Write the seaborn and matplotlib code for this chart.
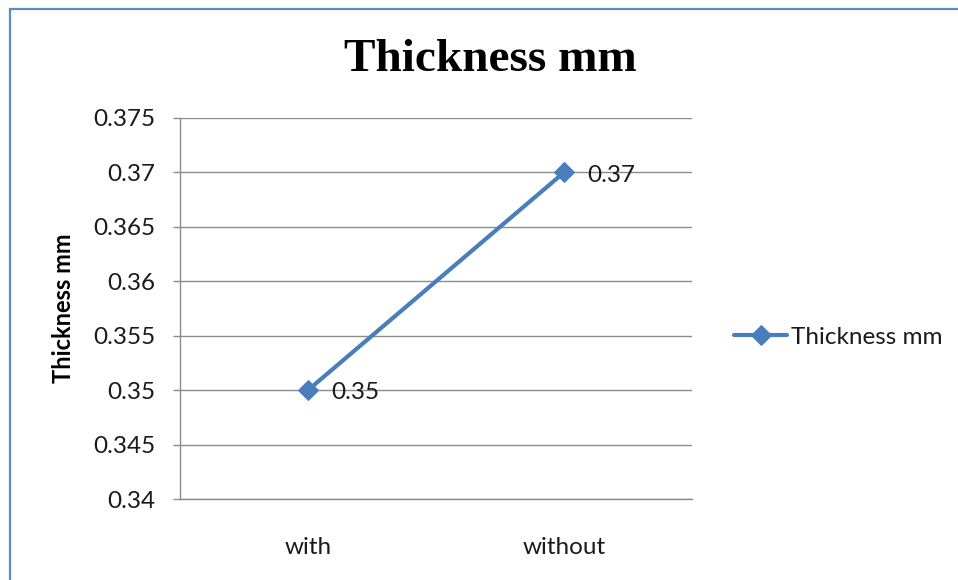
import matplotlib
matplotlib.use("Agg")
import matplotlib.pyplot as plt
import seaborn as sns
import pandas as pd
from matplotlib.patches import Rectangle

# data
categories = ["with", "without"]
thickness = [0.35, 0.37]
series_name = "Thickness mm"
y_ticks = [0.34, 0.345, 0.35, 0.355, 0.36, 0.365, 0.37, 0.375]
y_tick_labels = ["0.34", "0.345", "0.35", "0.355", "0.36", "0.365", "0.37", "0.375"]

df = pd.DataFrame({"group": categories, "value": thickness})

sns.set_theme(style="white")
plt.rcParams["font.family"] = ["Lato", "DejaVu Sans"]

blue = "#4A7EBB"
grid_c = "#8C8C8C"
text_c = "#1A1A1A"
fs = 17.5

fig = plt.figure(figsize=(9.58, 5.8), dpi=100)
ax = fig.add_axes([180 / 958, 1 - 499 / 580, 512 / 958, 381 / 580])

sns.lineplot(data=df, x="group", y="value", ax=ax, color=blue, linewidth=3,
             marker="D", markersize=10, markeredgecolor=blue, label=series_name,
             legend=False)

ax.set_xlim(-0.5, 1.5)
ax.set_ylim(0.34, 0.375)
ax.set_yticks(y_ticks)
ax.set_yticklabels(y_tick_labels, fontsize=fs, color=text_c)
ax.set_xticks(range(len(categories)))
ax.set_xticklabels(categories, fontsize=fs, color=text_c)
ax.tick_params(axis="y", length=5, width=1, color=grid_c, pad=13, left=True)
ax.tick_params(axis="x", length=0, pad=27)

ax.grid(axis="y", color=grid_c, linewidth=1)
ax.grid(axis="x", visible=False)
ax.set_axisbelow(True)
for side in ["top", "right"]:
    ax.spines[side].set_visible(False)
for side in ["left", "bottom"]:
    ax.spines[side].set_color(grid_c)
    ax.spines[side].set_linewidth(1)

ax.set_xlabel("")
ax.set_ylabel(series_name, fontsize=17, fontweight="bold", color="black", labelpad=13)

# value labels beside each point
for i, v in enumerate(thickness):
    ax.annotate(f"{v:g}", (i, v), xytext=(17, -2), textcoords="offset points",
                ha="left", va="center", fontsize=fs, color=text_c)

fig.text(490 / 958, 1 - 60 / 580, series_name, ha="center", va="center",
         fontsize=34, fontweight="bold", family="Liberation Serif", color="black")

handles, labels = ax.get_legend_handles_labels()
fig.legend(handles, labels, loc="center left", bbox_to_anchor=(712 / 958, 1 - 337 / 580),
           frameon=False, fontsize=fs, handlelength=2.2, handletextpad=0.15,
           labelcolor=text_c)

# chart frame
fig.patches.append(Rectangle((9.5 / 958, -0.1), 1.2, (1 - 9.5 / 580) + 0.1,
                             transform=fig.transFigure, fill=False,
                             edgecolor="#5B8BC9", linewidth=1.6))

fig.savefig("out.png", dpi=100)
